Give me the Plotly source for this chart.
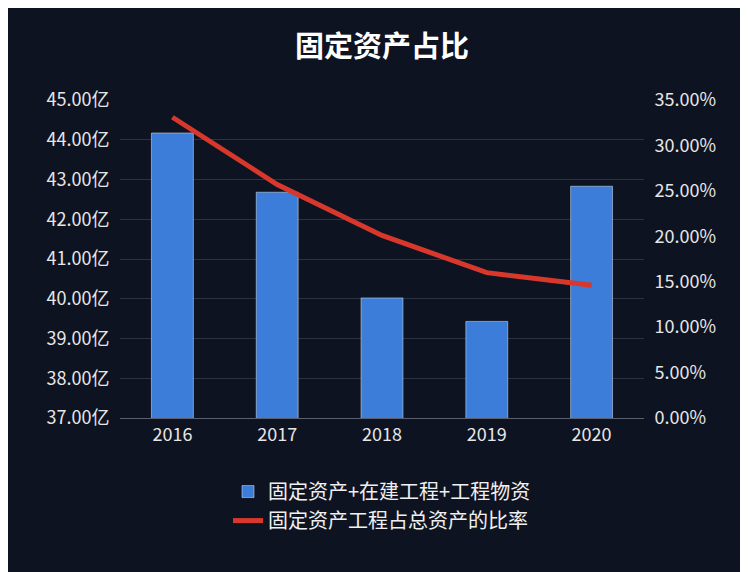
import plotly.graph_objects as go

years = ["2016", "2017", "2018", "2019", "2020"]
assets = [44.17, 42.68, 40.02, 39.43, 42.83]  # 亿
ratio = [0.331, 0.257, 0.201, 0.160, 0.146]

font = "Noto Sans CJK SC"

fig = go.Figure()
fig.add_trace(go.Bar(
    x=years, y=assets, name="固定资产+在建工程+工程物资",
    marker=dict(color="#3b7dd8"), width=0.4,
))
fig.add_trace(go.Scatter(
    x=years, y=ratio, name="固定资产工程占总资产的比率", yaxis="y2",
    mode="lines", line=dict(color="#d8372c", width=5),
))

fig.update_layout(
    width=748, height=572,
    paper_bgcolor="#0e1322", plot_bgcolor="#0e1322",
    font=dict(family=font, color="#e6e6e6", size=17),
    title=dict(text="<b>固定资产占比</b>", x=0.5, y=0.95, xanchor="center",
               font=dict(size=29, color="white")),
    margin=dict(l=112, r=112, t=92, b=162),
    bargap=0.6,
    xaxis=dict(showgrid=False, showline=True, linecolor="#5a6070",
               ticks="", tickfont=dict(size=18)),
    yaxis=dict(range=[37, 45], dtick=1, tickformat=".2f", ticksuffix="亿",
               gridcolor="#2c3242", zeroline=False, tickfont=dict(size=18),
               ticks="outside", ticklen=6, tickcolor="rgba(0,0,0,0)"),
    yaxis2=dict(range=[0, 0.35], dtick=0.05, tickformat=".2%", overlaying="y",
                side="right", showgrid=False, zeroline=False, tickfont=dict(size=18),
                ticks="outside", ticklen=6, tickcolor="rgba(0,0,0,0)"),
    legend=dict(orientation="v", x=0.5, xanchor="center", y=-0.17, yanchor="top",
                font=dict(size=20, color="#f0f0f0"), bgcolor="rgba(0,0,0,0)"),
    showlegend=True,
)

fig.write_html("out.html")
